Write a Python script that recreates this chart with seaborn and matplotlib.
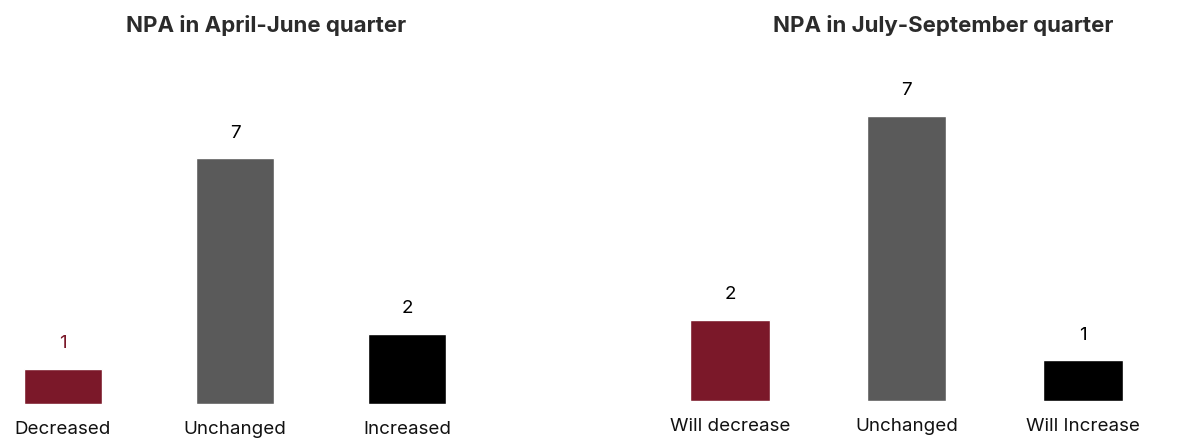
import matplotlib
matplotlib.use("Agg")
import matplotlib.pyplot as plt
import seaborn as sns
import pandas as pd

# left chart: NPA in April-June quarter
q1_labels = ["Decreased", "Unchanged", "Increased"]
q1_values = [1, 7, 2]
# right chart: NPA in July-September quarter
q2_labels = ["Will decrease", "Unchanged", "Will Increase"]
q2_values = [2, 7, 1]

bar_colors = ["#7B1829", "#5A5A5A", "#000000"]
q1_text_colors = ["#7B1829", "#000000", "#000000"]
q2_text_colors = ["#000000", "#000000", "#000000"]

sns.set_style("white")
plt.rcParams["font.family"] = ["Inter", "DejaVu Sans"]

W, H = 1193, 441
fig = plt.figure(figsize=(W / 100, H / 100), dpi=100)


def px_axes(left, bottom, width, height):
    # axes placed in pixel units measured from the top-left corner
    return fig.add_axes([left / W, (H - bottom) / H, width / W, height / H])


def draw(ax, labels, values, text_colors, xlim, ylim):
    df = pd.DataFrame({"cat": labels, "val": values})
    sns.barplot(data=df, x="cat", y="val", hue="cat", palette=bar_colors,
                width=0.45, legend=False, ax=ax, saturation=1)
    ax.set_xlim(*xlim)
    ax.set_ylim(*ylim)
    for i, v in enumerate(values):
        ax.annotate(str(v), (i, v), xytext=(0, 12), textcoords="offset points",
                    ha="center", va="bottom", fontsize=13.5, color=text_colors[i])
    ax.set_xlabel("")
    ax.set_ylabel("")
    ax.set_yticks([])
    ax.tick_params(axis="x", length=0, pad=12, labelsize=13.5, colors="#111111")
    sns.despine(ax=ax, left=True, bottom=True)


# left: centers at 63 and 407 px (172 px per category), baseline 404 px
ax1 = px_axes(63 - 0.3 * 172, 404, 2.6 * 172, 351)
draw(ax1, q1_labels, q1_values, q1_text_colors, (-0.3, 2.3), (0, 10))

# right: centers at 730 and 1083 px (176.5 px per category), baseline 401 px
ax2 = px_axes(730 - 0.3 * 176.5, 401, 2.6 * 176.5, 346)
draw(ax2, q2_labels, q2_values, q2_text_colors, (-0.3, 2.3), (0, 8.5))

fig.text(266 / W, 1 - 26 / H, "NPA in April-June quarter", ha="center", va="center",
         fontsize=16, fontweight="bold", color="#2b2b2b")
fig.text(943 / W, 1 - 26 / H, "NPA in July-September quarter", ha="center", va="center",
         fontsize=16, fontweight="bold", color="#2b2b2b")

fig.savefig("out.png", dpi=100)
